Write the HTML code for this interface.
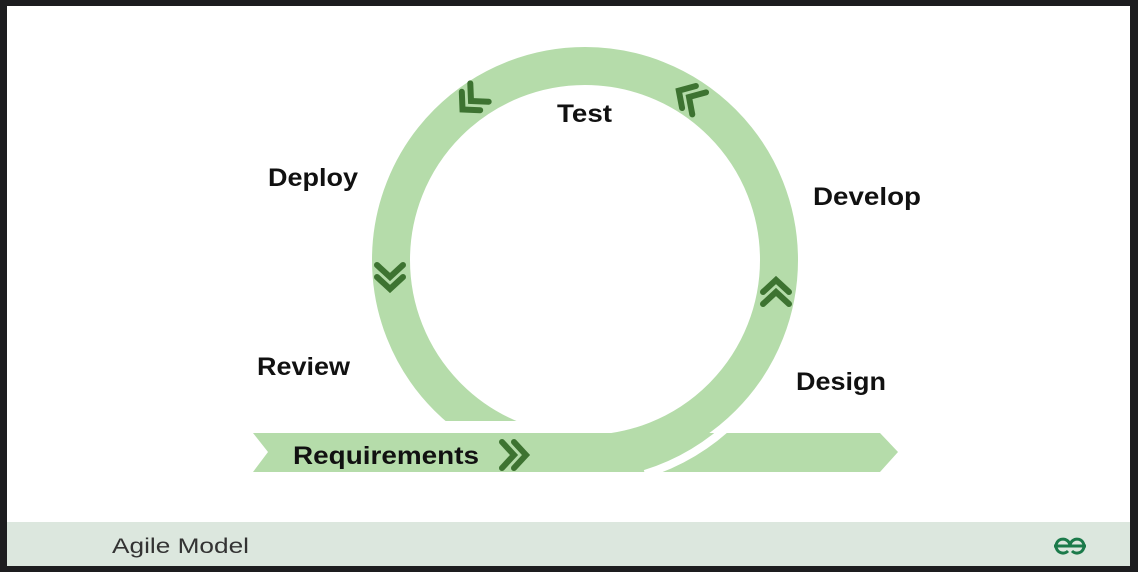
<!DOCTYPE html>
<html><head><style>
html,body{margin:0;padding:0;background:#1d1d1f;}
body{width:1138px;height:572px;overflow:hidden;position:relative;}
</style></head><body>
<svg width="1138" height="572" viewBox="0 0 1138 572" xmlns="http://www.w3.org/2000/svg" style="position:absolute;left:0;top:0">
<rect x="0" y="0" width="1138" height="572" fill="#1d1d1f"/>
<rect x="7" y="6" width="1123" height="560" fill="#ffffff"/>
<rect x="7" y="522" width="1123" height="44" fill="#dce7de"/>
<defs>
<g id="chev">
<polyline points="-12,-13 0,0 -12,13" fill="none" stroke="#3d7331" stroke-width="6" stroke-linecap="round" stroke-linejoin="miter"/>
<polyline points="0,-13 12,0 0,13" fill="none" stroke="#3d7331" stroke-width="6" stroke-linecap="round" stroke-linejoin="miter"/>
</g>
</defs>
<!-- ring -->
<circle cx="585" cy="260" r="194" fill="none" stroke="#b5dcaa" stroke-width="38"/>
<rect x="440" y="421" width="170" height="12" fill="#fff"/>
<!-- band -->
<polygon points="253,433 880,433 898,452 880,472 253,472 268,452" fill="#b5dcaa"/>
<rect x="500" y="472" width="200" height="6" fill="#fff"/>
<!-- gap -->
<path d="M735,420 A222,222 0 0 1 645,474" fill="none" stroke="#fff" stroke-width="8"/>
<!-- chevrons -->
<use href="#chev" transform="translate(514,455)"/>
<use href="#chev" transform="translate(776,292) rotate(-90)"/>
<use href="#chev" transform="translate(390,277) rotate(90)"/>
<use href="#chev" transform="translate(471,101) rotate(135)"/>
<use href="#chev" transform="translate(689,97) rotate(212)"/>
<g font-family="Liberation Sans, sans-serif" font-weight="bold" font-size="25" fill="#111">
<text x="557" y="122" textLength="55" lengthAdjust="spacingAndGlyphs">Test</text>
<text x="268" y="186" textLength="90" lengthAdjust="spacingAndGlyphs">Deploy</text>
<text x="813" y="205" textLength="108" lengthAdjust="spacingAndGlyphs">Develop</text>
<text x="257" y="375" textLength="93" lengthAdjust="spacingAndGlyphs">Review</text>
<text x="796" y="390" textLength="90" lengthAdjust="spacingAndGlyphs">Design</text>
<text x="293" y="464" textLength="186" lengthAdjust="spacingAndGlyphs">Requirements</text>
</g>
<text x="112" y="553" font-family="Liberation Sans, sans-serif" font-size="21" fill="#333" textLength="137" lengthAdjust="spacingAndGlyphs">Agile Model</text>
<g fill="none" stroke="#1b7a4a" stroke-width="3">
<path d="M1054,546 h16 a7,7 0 1 0 -2,5"/>
<path d="M1086,546 h-16 a7,7 0 1 1 2,5"/>
</g>
</svg>
</body></html>
